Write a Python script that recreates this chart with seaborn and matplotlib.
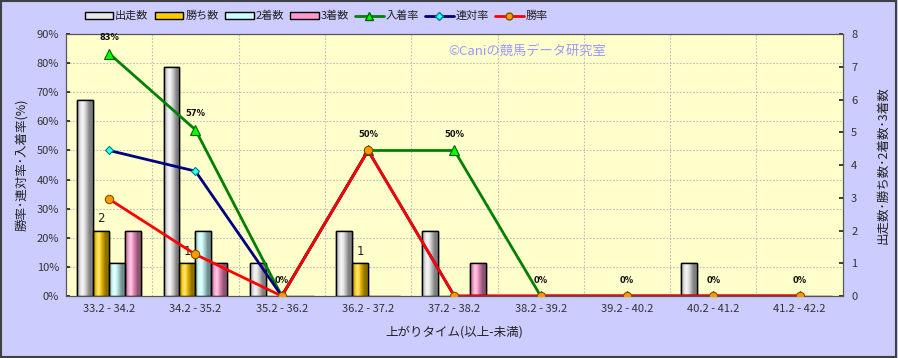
import numpy as np
import pandas as pd
import matplotlib
matplotlib.use("Agg")
import matplotlib.pyplot as plt
from matplotlib.patches import Rectangle, Patch
from matplotlib.lines import Line2D
import seaborn as sns

# ---------------- data ----------------
categories = ["33.2 - 34.2", "34.2 - 35.2", "35.2 - 36.2", "36.2 - 37.2", "37.2 - 38.2",
              "38.2 - 39.2", "39.2 - 40.2", "40.2 - 41.2", "41.2 - 42.2"]
runs = [6, 7, 1, 2, 2, 0, 0, 1, 0]        # 出走数
wins = [2, 1, 0, 1, 0, 0, 0, 0, 0]        # 勝ち数
seconds = [1, 2, 0, 0, 0, 0, 0, 0, 0]     # 2着数
thirds = [2, 1, 0, 0, 1, 0, 0, 0, 0]      # 3着数
place_rate = [83.3, 57.1, 0, 50, 50, 0, 0, 0, 0]   # 入着率
quinella_rate = [50, 42.9, 0, 50, 0, 0, 0, 0, 0]   # 連対率
win_rate = [33.3, 14.3, 0, 50, 0, 0, 0, 0, 0]      # 勝率
pct_ticks = [0, 10, 20, 30, 40, 50, 60, 70, 80, 90]
cnt_ticks = [0, 1, 2, 3, 4, 5, 6, 7, 8]

bar_series = ["出走数", "勝ち数", "2着数", "3着数"]
bar_colors = ["#E8E8E8", "#FFCC00", "#CCFFFF", "#FF99CC"]

sns.set_theme(style="white")
plt.rcParams["font.family"] = ["Noto Sans CJK JP", "DejaVu Sans"]

df = pd.DataFrame({
    "区間": categories * 4,
    "系列": sum([[s] * len(categories) for s in bar_series], []),
    "値": runs + wins + seconds + thirds,
})

fig = plt.figure(figsize=(8.98, 3.58), dpi=100)
fig.patch.set_facecolor("#CCCCFF")
fig.patches.append(Rectangle((0.001, 0.002), 0.997, 0.995, transform=fig.transFigure,
                             fill=False, edgecolor="#404040", linewidth=1.5))

ax1 = fig.add_axes([0.0735, 0.173, 0.865, 0.732])
ax1.set_facecolor("#FFFFCC")
ax2 = ax1.twinx()
ax3 = ax1.twinx()

# ---------------- bars (counts, right axis) ----------------
sns.barplot(data=df, x="区間", y="値", hue="系列", hue_order=bar_series,
            palette=bar_colors, order=categories, width=0.74, gap=0,
            edgecolor="black", linewidth=1, saturation=1, legend=False, ax=ax2)

def gradient_for(color):
    base = np.array(matplotlib.colors.to_rgb(color))
    t = np.linspace(0, 1, 64)
    s = np.sin(np.pi * np.clip(t / 0.8, 0, 1) ** 0.8)
    shade = 0.55 + 0.45 * s
    rgb = base[None, :] * shade[:, None]
    hl = np.clip(1 - np.abs(t - 0.35) / 0.2, 0, 1) * 0.5
    rgb = rgb + (1 - rgb) * hl[:, None]
    return np.clip(rgb, 0, 1)[None, :, :]

for p in list(ax2.patches):
    h = p.get_height()
    if h <= 0:
        continue
    x0, y0 = p.get_xy()
    w = p.get_width()
    im = ax2.imshow(gradient_for(p.get_facecolor()), extent=[x0, x0 + w, y0, y0 + h],
                    aspect="auto", zorder=p.get_zorder() + 0.1, interpolation="bilinear")
    im.set_clip_path(p)
    ax2.add_patch(Rectangle((x0, y0), w, h, fill=False, edgecolor="black",
                            linewidth=1, zorder=p.get_zorder() + 0.2))

# labels on 勝ち数 bars
wins_container = ax2.containers[1]
ax2.bar_label(wins_container, labels=[str(v) if v > 0 else "" for v in wins],
              padding=4, fontsize=8.5, color="#222222", family="DejaVu Sans")

ax2.set_ylim(0, 8)
ax2.set_yticks(cnt_ticks)
ax2.set_yticklabels([str(v) for v in cnt_ticks], fontsize=8, color="#333333")
ax2.set_ylabel("出走数･勝ち数･2着数･3着数", fontsize=9, color="#222222", labelpad=14)
ax2.tick_params(axis="y", direction="in", length=3, pad=6, right=True)

# ---------------- lines (rates, left axis scale) ----------------
sns.pointplot(x=categories, y=place_rate, order=categories, color="#008000",
              markers="^", linewidth=2, markersize=7.5, markerfacecolor="#00FF00",
              markeredgecolor="#006000", markeredgewidth=0.8, errorbar=None, ax=ax3)
sns.pointplot(x=categories, y=quinella_rate, order=categories, color="#000080",
              markers="D", linewidth=2, markersize=4.5, markerfacecolor="#33FFFF",
              markeredgecolor="#008080", markeredgewidth=0.8, errorbar=None, ax=ax3)
sns.pointplot(x=categories, y=win_rate, order=categories, color="#FF0000",
              markers="o", linewidth=2, markersize=6, markerfacecolor="#FF9900",
              markeredgecolor="#805000", markeredgewidth=0.8, errorbar=None, ax=ax3)

for i, v in enumerate(place_rate):
    ax3.annotate(f"{v:.0f}%", (i, v), xytext=(0, 11.5), textcoords="offset points",
                 ha="center", va="center", fontsize=6, fontweight="bold",
                 color="#111111", family="DejaVu Sans")

ax3.set_ylim(0, 90)
ax3.set_yticks([])
ax3.set_ylabel("")
ax3.set_xlabel("")
for sp in ax3.spines.values():
    sp.set_visible(False)

# ---------------- background axis (grid, left ticks) ----------------
ax1.set_ylim(0, 90)
ax1.set_yticks(pct_ticks)
ax1.set_yticklabels([f"{v}%" for v in pct_ticks], fontsize=8, color="#333333")
ax1.set_ylabel("勝率･連対率･入着率(%)", fontsize=9, color="#222222", labelpad=6)
ax1.tick_params(axis="y", direction="in", length=3, pad=5, left=True)
for y in pct_ticks[1:]:
    ax1.axhline(y, color="#BDBDBD", linestyle=(0, (1.5, 1.5)), linewidth=0.8, zorder=0)
for k in range(1, len(categories)):
    ax1.axvline(k - 0.5, color="#BDBDBD", linestyle=(0, (1.5, 1.5)), linewidth=0.8, zorder=0)

for ax in (ax1, ax2, ax3):
    ax.set_xlim(-0.5, len(categories) - 0.5)

ax2.set_xlabel("")
ax3.tick_params(axis="x", labelbottom=False, length=0)
ax1.set_xticks(range(len(categories)))
ax1.set_xticklabels(categories, fontsize=8, color="#333333")
ax1.tick_params(axis="x", length=0, pad=6)
ax1.set_xlabel("上がりタイム(以上-未満)", fontsize=9, color="#222222", labelpad=8)

for ax in (ax1, ax2):
    for sp in ax.spines.values():
        sp.set_color("#555555")
        sp.set_linewidth(0.8)

# watermark
ax3.text(0.593, 0.935, "©Caniの競馬データ研究室", transform=ax3.transAxes, ha="center",
         va="center", fontsize=9.5, color="#9999FF")

# legend
handles = [Patch(facecolor=c, edgecolor="black", linewidth=1) for c in bar_colors]
handles += [
    Line2D([], [], color="#008000", linewidth=2, marker="^", markersize=6,
           markerfacecolor="#00FF00", markeredgecolor="#006000"),
    Line2D([], [], color="#000080", linewidth=2, marker="D", markersize=4,
           markerfacecolor="#33FFFF", markeredgecolor="#008080"),
    Line2D([], [], color="#FF0000", linewidth=2, marker="o", markersize=5,
           markerfacecolor="#FF9900", markeredgecolor="#805000"),
]
labels = bar_series + ["入着率", "連対率", "勝率"]
fig.legend(handles, labels, loc="center left", bbox_to_anchor=(0.083, 0.955), ncol=7,
           frameon=False, fontsize=8, handlelength=2.6, handleheight=0.6,
           handletextpad=0.15, columnspacing=0.55, labelcolor="#222222")

fig.savefig("out.png", dpi=100, facecolor=fig.get_facecolor())
